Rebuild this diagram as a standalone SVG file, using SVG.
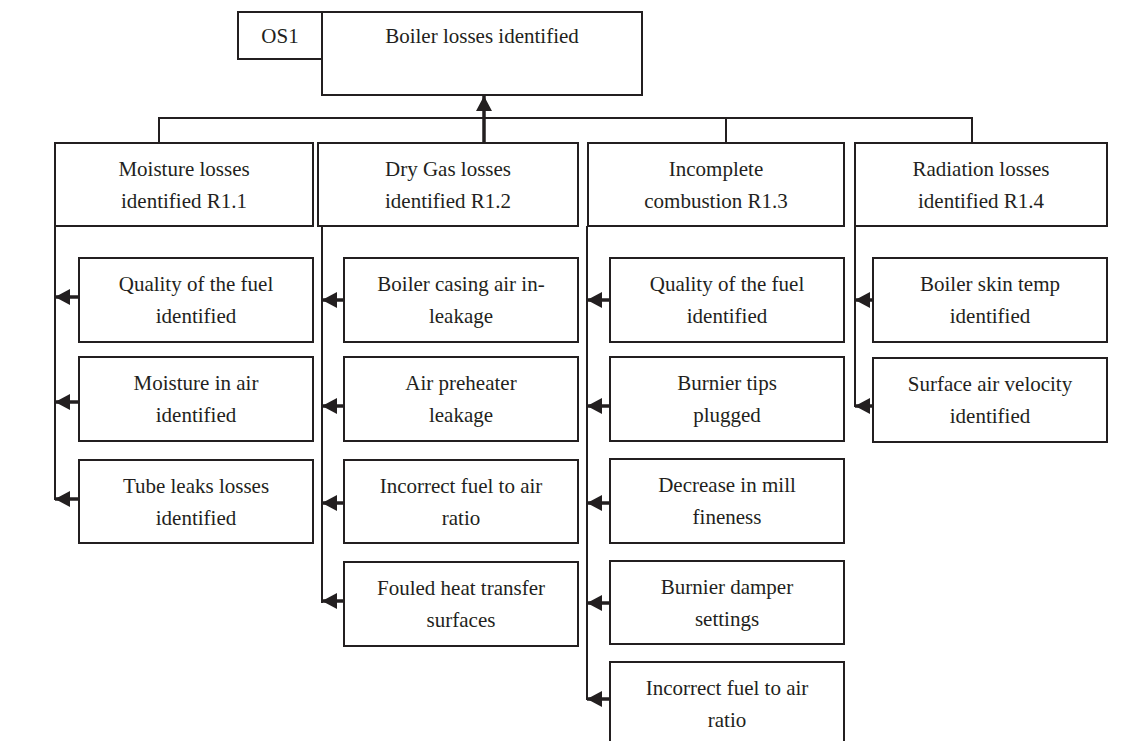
<svg xmlns="http://www.w3.org/2000/svg" width="1143" height="741" viewBox="0 0 1143 741">
<style>
.box{fill:#fff;stroke:#231f20;stroke-width:2}
.t{font-family:"Liberation Serif","DejaVu Serif",serif;font-size:21px;fill:#231f20;text-anchor:middle}
.ln{fill:none;stroke:#231f20;stroke-width:2}
.ar{fill:none;stroke:#231f20;stroke-width:3.5;marker-end:url(#ah)}
</style>
<defs>
<marker id="ah" markerUnits="userSpaceOnUse" markerWidth="16" markerHeight="18" refX="15" refY="9" orient="auto">
<path d="M0,1 L15,9 L0,17 Z" fill="#231f20"/>
</marker>
</defs>
<rect width="1143" height="741" fill="#fff"/>
<g id="connectors">
<polyline class="ln" points="159,143 159,118 972,118 972,143"/>
<line class="ln" x1="726" y1="118" x2="726" y2="143"/>
<line class="ar" x1="484" y1="143" x2="484" y2="96"/>
<line class="ln" x1="55" y1="226" x2="55" y2="500"/>
<line class="ln" x1="322" y1="226" x2="322" y2="603"/>
<line class="ln" x1="587" y1="226" x2="587" y2="700"/>
<line class="ln" x1="855" y1="226" x2="855" y2="407"/>
<line class="ar" x1="79" y1="297" x2="55" y2="297"/>
<line class="ar" x1="79" y1="402" x2="55" y2="402"/>
<line class="ar" x1="79" y1="499" x2="55" y2="499"/>
<line class="ar" x1="344" y1="300" x2="322" y2="300"/>
<line class="ar" x1="344" y1="406" x2="322" y2="406"/>
<line class="ar" x1="344" y1="503" x2="322" y2="503"/>
<line class="ar" x1="344" y1="601" x2="322" y2="601"/>
<line class="ar" x1="610" y1="300" x2="587" y2="300"/>
<line class="ar" x1="610" y1="406" x2="587" y2="406"/>
<line class="ar" x1="610" y1="503" x2="587" y2="503"/>
<line class="ar" x1="610" y1="603" x2="587" y2="603"/>
<line class="ar" x1="610" y1="699" x2="587" y2="699"/>
<line class="ar" x1="877" y1="300" x2="855" y2="300"/>
<line class="ar" x1="877" y1="406" x2="855" y2="406"/>
</g>
<g id="os1"><rect class="box" x="238" y="12" width="84" height="47"/><text class="t" x="280" y="43">OS1</text></g>
<g id="root"><rect class="box" x="322" y="12" width="320" height="83"/><text class="t" x="482" y="43">Boiler losses identified</text></g>
<g id="r11"><rect class="box" x="55" y="143" width="258" height="83"/><text class="t" x="184" y="176">Moisture losses</text><text class="t" x="184" y="208">identified R1.1</text></g>
<g id="r12"><rect class="box" x="318" y="143" width="260" height="83"/><text class="t" x="448" y="176">Dry Gas losses</text><text class="t" x="448" y="208">identified R1.2</text></g>
<g id="r13"><rect class="box" x="588" y="143" width="256" height="83"/><text class="t" x="716" y="176">Incomplete</text><text class="t" x="716" y="208">combustion R1.3</text></g>
<g id="r14"><rect class="box" x="855" y="143" width="252" height="83"/><text class="t" x="981" y="176">Radiation losses</text><text class="t" x="981" y="208">identified R1.4</text></g>
<g id="c1a"><rect class="box" x="79" y="258" width="234" height="84"/><text class="t" x="196" y="291">Quality of the fuel</text><text class="t" x="196" y="323">identified</text></g>
<g id="c1b"><rect class="box" x="79" y="357" width="234" height="84"/><text class="t" x="196" y="390">Moisture in air</text><text class="t" x="196" y="422">identified</text></g>
<g id="c1c"><rect class="box" x="79" y="460" width="234" height="83"/><text class="t" x="196" y="493">Tube leaks losses</text><text class="t" x="196" y="525">identified</text></g>
<g id="c2a"><rect class="box" x="344" y="258" width="234" height="84"/><text class="t" x="461" y="291">Boiler casing air in-</text><text class="t" x="461" y="323">leakage</text></g>
<g id="c2b"><rect class="box" x="344" y="357" width="234" height="84"/><text class="t" x="461" y="390">Air preheater</text><text class="t" x="461" y="422">leakage</text></g>
<g id="c2c"><rect class="box" x="344" y="460" width="234" height="83"/><text class="t" x="461" y="493">Incorrect fuel to air</text><text class="t" x="461" y="525">ratio</text></g>
<g id="c2d"><rect class="box" x="344" y="562" width="234" height="84"/><text class="t" x="461" y="595">Fouled heat transfer</text><text class="t" x="461" y="627">surfaces</text></g>
<g id="c3a"><rect class="box" x="610" y="258" width="234" height="84"/><text class="t" x="727" y="291">Quality of the fuel</text><text class="t" x="727" y="323">identified</text></g>
<g id="c3b"><rect class="box" x="610" y="357" width="234" height="84"/><text class="t" x="727" y="390">Burnier tips</text><text class="t" x="727" y="422">plugged</text></g>
<g id="c3c"><rect class="box" x="610" y="459" width="234" height="84"/><text class="t" x="727" y="492">Decrease in mill</text><text class="t" x="727" y="524">fineness</text></g>
<g id="c3d"><rect class="box" x="610" y="561" width="234" height="83"/><text class="t" x="727" y="594">Burnier damper</text><text class="t" x="727" y="626">settings</text></g>
<g id="c3e"><rect class="box" x="610" y="662" width="234" height="84"/><text class="t" x="727" y="695">Incorrect fuel to air</text><text class="t" x="727" y="727">ratio</text></g>
<g id="c4a"><rect class="box" x="873" y="258" width="234" height="84"/><text class="t" x="990" y="291">Boiler skin temp</text><text class="t" x="990" y="323">identified</text></g>
<g id="c4b"><rect class="box" x="873" y="358" width="234" height="84"/><text class="t" x="990" y="391">Surface air velocity</text><text class="t" x="990" y="423">identified</text></g>
</svg>
